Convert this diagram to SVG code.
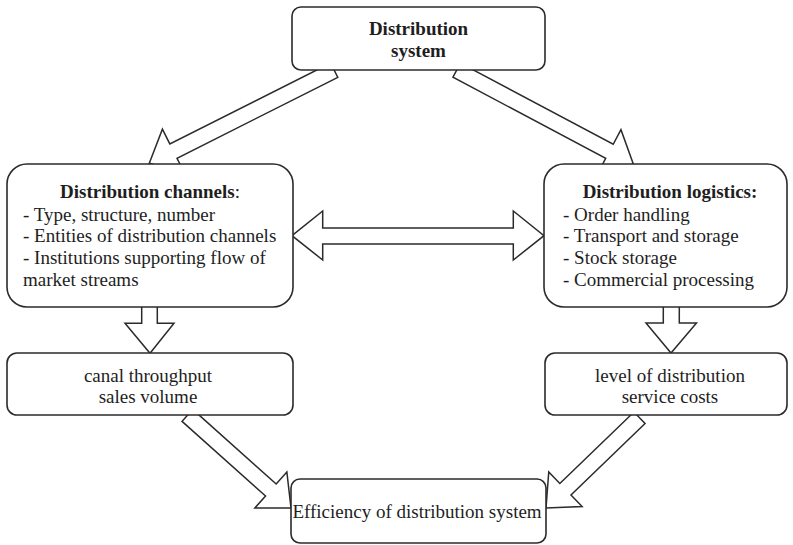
<svg xmlns="http://www.w3.org/2000/svg" width="793" height="545" viewBox="0 0 793 545">
  <style>
    .box { fill: #ffffff; stroke: #2b2b2b; stroke-width: 1.6; }
    .arrow { fill: #ffffff; stroke: #2b2b2b; stroke-width: 1.5; stroke-linejoin: miter; }
    text { font-family: "Liberation Serif", "Times New Roman", serif; font-size: 19px; fill: #1e1e1e; }
    .b { font-weight: bold; }
    .c { text-anchor: middle; }
  </style>

  <rect width="793" height="545" fill="#ffffff"/>

  <!-- block arrows: drawn first so the boxes cover their ends -->
  <g id="connectors">
    <!-- system -> channels -->
    <polygon class="arrow" transform="translate(149.3,163.2) rotate(153.3)"
             points="-207,-8 -27,-8 -27,-24.5 0,0 -27,24.5 -27,8 -207,8"/>
    <!-- system -> logistics -->
    <polygon class="arrow" transform="translate(633.3,164) rotate(28)"
             points="-200,-8 -27,-8 -27,-24.5 0,0 -27,24.5 -27,8 -200,8"/>
    <!-- channels <-> logistics -->
    <polygon class="arrow"
             points="292,235.7 322.7,211 322.7,228 513.3,228 513.3,211 544,235.7 513.3,260 513.3,244 322.7,244 322.7,260"/>
    <!-- channels -> throughput -->
    <polygon class="arrow"
             points="141.7,300 157.3,300 157.3,323.3 174,323.3 150,353.3 125,323.3 141.7,323.3"/>
    <!-- logistics -> service costs -->
    <polygon class="arrow"
             points="663.3,300 679.3,300 679.3,323 696.5,323 671,353 646,323 663.3,323"/>
    <!-- throughput -> efficiency -->
    <polygon class="arrow" transform="translate(291,508) rotate(41.8)"
             points="-139,-8 -27,-8 -27,-24 0,0 -27,24 -27,8 -139,8"/>
    <!-- service costs -> efficiency -->
    <polygon class="arrow" transform="translate(546,508) rotate(136)"
             points="-130,-8 -27,-8 -27,-24 0,0 -27,24 -27,8 -130,8"/>
  </g>

  <g id="distribution-system">
    <rect class="box" x="292" y="7" width="253" height="63" rx="9"/>
    <text class="b c" x="418.5" y="34.5">Distribution</text>
    <text class="b c" x="418.5" y="57">system</text>
  </g>

  <g id="distribution-channels">
    <rect class="box" x="7" y="164" width="286" height="143" rx="20"/>
    <text class="c" x="150" y="197.7"><tspan class="b">Distribution channels</tspan>:</text>
    <text x="23" y="220.5">- Type, structure, number</text>
    <text x="23" y="242">- Entities of distribution channels</text>
    <text x="23" y="263.5">- Institutions supporting flow of</text>
    <text x="23" y="285.5">market streams</text>
  </g>

  <g id="distribution-logistics">
    <rect class="box" x="544" y="164" width="243" height="143" rx="20"/>
    <text class="b c" x="670" y="197.7">Distribution logistics:</text>
    <text x="563" y="220.5">- Order handling</text>
    <text x="563" y="242">- Transport and storage</text>
    <text x="563" y="263.5">- Stock storage</text>
    <text x="563" y="285.5">- Commercial processing</text>
  </g>

  <g id="canal-throughput">
    <rect class="box" x="7" y="353" width="286" height="62" rx="10"/>
    <text class="c" x="148" y="381.7">canal throughput</text>
    <text class="c" x="148" y="403.3">sales volume</text>
  </g>

  <g id="service-costs">
    <rect class="box" x="545" y="353" width="242" height="62" rx="10"/>
    <text class="c" x="670" y="381.7">level of distribution</text>
    <text class="c" x="670" y="403.3">service costs</text>
  </g>

  <g id="efficiency">
    <rect class="box" x="291" y="479" width="255" height="64" rx="9"/>
    <text class="c" x="417" y="518.3">Efficiency of distribution system</text>
  </g>
</svg>
